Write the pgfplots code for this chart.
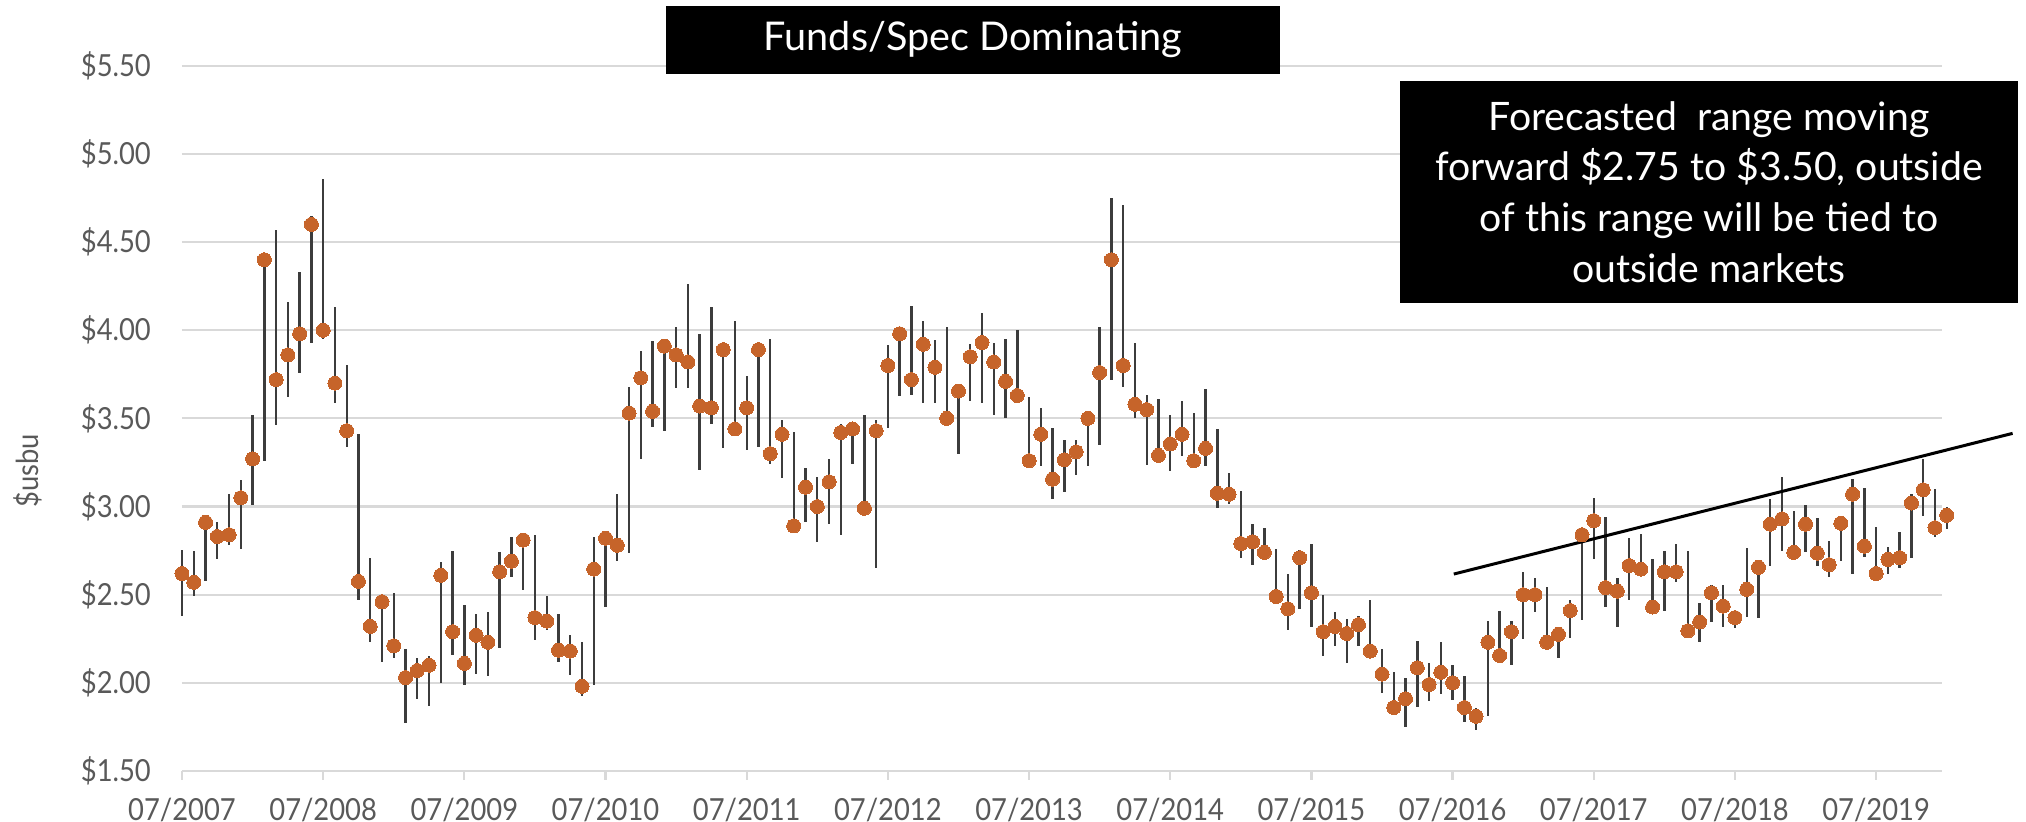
\documentclass[border=0pt]{standalone}
\usepackage{fontspec}
\setmainfont{Lato}[FakeStretch=0.9]
\newfontfamily\boxfont{Lato}
\usepackage{pgfplots}
\pgfplotsset{compat=1.18}
\usepackage{pgfplotstable}
\definecolor{dotc}{RGB}{198,100,42}
\definecolor{whisk}{RGB}{60,60,60}
\definecolor{gridc}{RGB}{217,217,217}
\definecolor{tickc}{RGB}{89,89,89}

\pgfplotstableread{
m c h l
0 2.62 2.755 2.38
1 2.57 2.745 2.49
2 2.91 2.915 2.575
3 2.83 2.91 2.70
4 2.84 3.07 2.78
5 3.05 3.15 2.76
6 3.27 3.52 3.01
7 4.40 4.41 3.26
8 3.72 4.57 3.46
9 3.86 4.16 3.62
10 3.98 4.33 3.76
11 4.60 4.65 3.93
12 4.00 4.86 3.95
13 3.70 4.13 3.59
14 3.43 3.80 3.34
15 2.575 3.41 2.47
16 2.32 2.71 2.23
17 2.46 2.47 2.12
18 2.21 2.51 2.14
19 2.03 2.19 1.77
20 2.07 2.14 1.91
21 2.10 2.15 1.87
22 2.61 2.685 2.00
23 2.29 2.745 2.16
24 2.11 2.44 1.99
25 2.27 2.39 2.05
26 2.23 2.40 2.04
27 2.63 2.74 2.20
28 2.69 2.83 2.60
29 2.81 2.82 2.525
30 2.37 2.84 2.245
31 2.35 2.49 2.30
32 2.185 2.39 2.12
33 2.18 2.27 2.045
34 1.98 2.23 1.925
35 2.645 2.83 1.99
36 2.82 2.82 2.43
37 2.78 3.07 2.69
38 3.53 3.68 2.735
39 3.73 3.88 3.27
40 3.54 3.94 3.45
41 3.91 3.91 3.43
42 3.86 4.02 3.67
43 3.82 4.26 3.67
44 3.57 3.98 3.21
45 3.56 4.13 3.47
46 3.89 3.89 3.33
47 3.44 4.05 3.44
48 3.56 3.74 3.32
49 3.89 3.89 3.34
50 3.30 3.95 3.24
51 3.41 3.49 3.16
52 2.89 3.42 2.89
53 3.11 3.22 2.915
54 3.00 3.17 2.80
55 3.14 3.27 2.90
56 3.42 3.47 2.84
57 3.44 3.48 3.24
58 2.99 3.52 2.95
59 3.43 3.49 2.65
60 3.80 3.915 3.445
61 3.98 3.98 3.625
62 3.72 4.14 3.63
63 3.92 4.05 3.59
64 3.79 3.945 3.585
65 3.50 4.02 3.50
66 3.655 3.655 3.30
67 3.85 3.92 3.60
68 3.93 4.10 3.59
69 3.82 3.93 3.52
70 3.71 3.95 3.50
71 3.63 4.00 3.62
72 3.26 3.62 3.25
73 3.41 3.56 3.23
74 3.155 3.445 3.04
75 3.265 3.38 3.08
76 3.31 3.38 3.18
77 3.50 3.50 3.23
78 3.76 4.02 3.35
79 4.40 4.75 3.72
80 3.80 4.71 3.68
81 3.58 3.93 3.50
82 3.55 3.635 3.235
83 3.29 3.61 3.29
84 3.355 3.52 3.20
85 3.41 3.60 3.285
86 3.26 3.53 3.25
87 3.33 3.665 3.23
88 3.075 3.44 2.99
89 3.07 3.19 3.015
90 2.79 3.09 2.71
91 2.80 2.90 2.67
92 2.74 2.88 2.74
93 2.49 2.76 2.49
94 2.42 2.62 2.30
95 2.71 2.755 2.42
96 2.51 2.79 2.315
97 2.29 2.50 2.15
98 2.32 2.40 2.21
99 2.28 2.36 2.115
100 2.33 2.38 2.21
101 2.18 2.47 2.18
102 2.05 2.19 1.94
103 1.86 2.06 1.86
104 1.91 2.025 1.75
105 2.085 2.235 1.865
106 1.99 2.11 1.895
107 2.06 2.23 1.935
108 2.00 2.10 1.90
109 1.86 2.04 1.78
110 1.81 1.86 1.735
111 2.23 2.35 1.81
112 2.155 2.405 2.155
113 2.29 2.35 2.10
114 2.50 2.63 2.25
115 2.50 2.595 2.40
116 2.23 2.545 2.225
117 2.275 2.30 2.14
118 2.41 2.47 2.255
119 2.84 2.84 2.355
120 2.92 3.05 2.70
121 2.54 2.94 2.43
122 2.52 2.595 2.315
123 2.665 2.82 2.47
124 2.645 2.845 2.605
125 2.43 2.70 2.43
126 2.63 2.745 2.41
127 2.63 2.79 2.57
128 2.295 2.75 2.295
129 2.345 2.455 2.23
130 2.51 2.555 2.345
131 2.435 2.555 2.315
132 2.37 2.405 2.31
133 2.53 2.765 2.375
134 2.655 2.655 2.365
135 2.90 3.04 2.665
136 2.93 3.17 2.745
137 2.74 2.975 2.74
138 2.90 3.01 2.74
139 2.735 2.935 2.665
140 2.67 2.805 2.60
141 2.905 2.905 2.69
142 3.07 3.155 2.615
143 2.775 3.105 2.715
144 2.62 2.885 2.62
145 2.70 2.77 2.615
146 2.71 2.855 2.65
147 3.02 3.07 2.71
148 3.095 3.27 2.945
149 2.88 3.10 2.825
150 2.95 3.00 2.87
}\corn

\begin{document}
\begin{tikzpicture}
\begin{axis}[
  at={(0,0)}, anchor=south west,
  scale only axis, width=440pt, height=176.3pt,
  xmin=0, xmax=149.6, ymin=1.5, ymax=5.5,
  clip=false,
  axis line style={draw=none},
  ymajorgrids, grid style={gridc, line width=0.55pt},
  ytick={1.5,2,2.5,3,3.5,4,4.5,5,5.5},
  yticklabels={\$1.50,\$2.00,\$2.50,\$3.00,\$3.50,\$4.00,\$4.50,\$5.00,\$5.50},
  xtick={0,12,24,36,48,60,72,84,96,108,120,132,144},
  xticklabels={07/2007,07/2008,07/2009,07/2010,07/2011,07/2012,07/2013,07/2014,07/2015,07/2016,07/2017,07/2018,07/2019},
  xtick pos=bottom,
  tick align=outside,
  major tick length=2.25pt,
  xtick style={draw=gridc, line width=0.55pt},
  ytick style={draw=none},
  ticklabel style={font=\fontsize{7.6}{9}\selectfont, text=tickc},
  yticklabel style={xshift=-2pt},
  xticklabel style={yshift=-1pt},
]
\addplot[draw=none, mark=none, forget plot,
  error bars/.cd, y dir=both, y explicit, error mark=none,
  error bar style={whisk, line width=0.6pt}]
  table[x=m, y=c, y error plus expr=\thisrow{h}-\thisrow{c}, y error minus expr=\thisrow{c}-\thisrow{l}] {\corn};
\addplot[only marks, color=dotc, mark=*, mark size=1.75pt, mark options={fill=dotc, draw=dotc, line width=0pt}]
  table[x=m, y=c] {\corn};
\addplot[black, line width=0.75pt, mark=none] coordinates {(108.1,2.617) (155.6,3.415)};
\end{axis}
\node[rotate=90, text=tickc, font=\fontsize{7.6}{9}\selectfont] at (-38.5pt,75pt) {\$usbu};
\node[fill=black, text=white, minimum width=153.5pt, minimum height=17pt, inner sep=0pt,
  font=\boxfont\fontsize{9.9}{12}\selectfont] at (197.75pt,182.75pt) {Funds/Spec Dominating};
\node[fill=black, text=white, minimum width=154.5pt, minimum height=55.5pt, inner sep=0pt,
  align=center, font=\boxfont\fontsize{9.8}{12.7}\selectfont] at (381.75pt,144.75pt)
  {Forecasted\ \ range moving\\forward \$2.75 to \$3.50, outside\\of this range will be tied to\\outside markets};
\pgfresetboundingbox
\path[use as bounding box] (-45.5pt,-12.75pt) rectangle (461pt,192.75pt);
\end{tikzpicture}
\end{document}
